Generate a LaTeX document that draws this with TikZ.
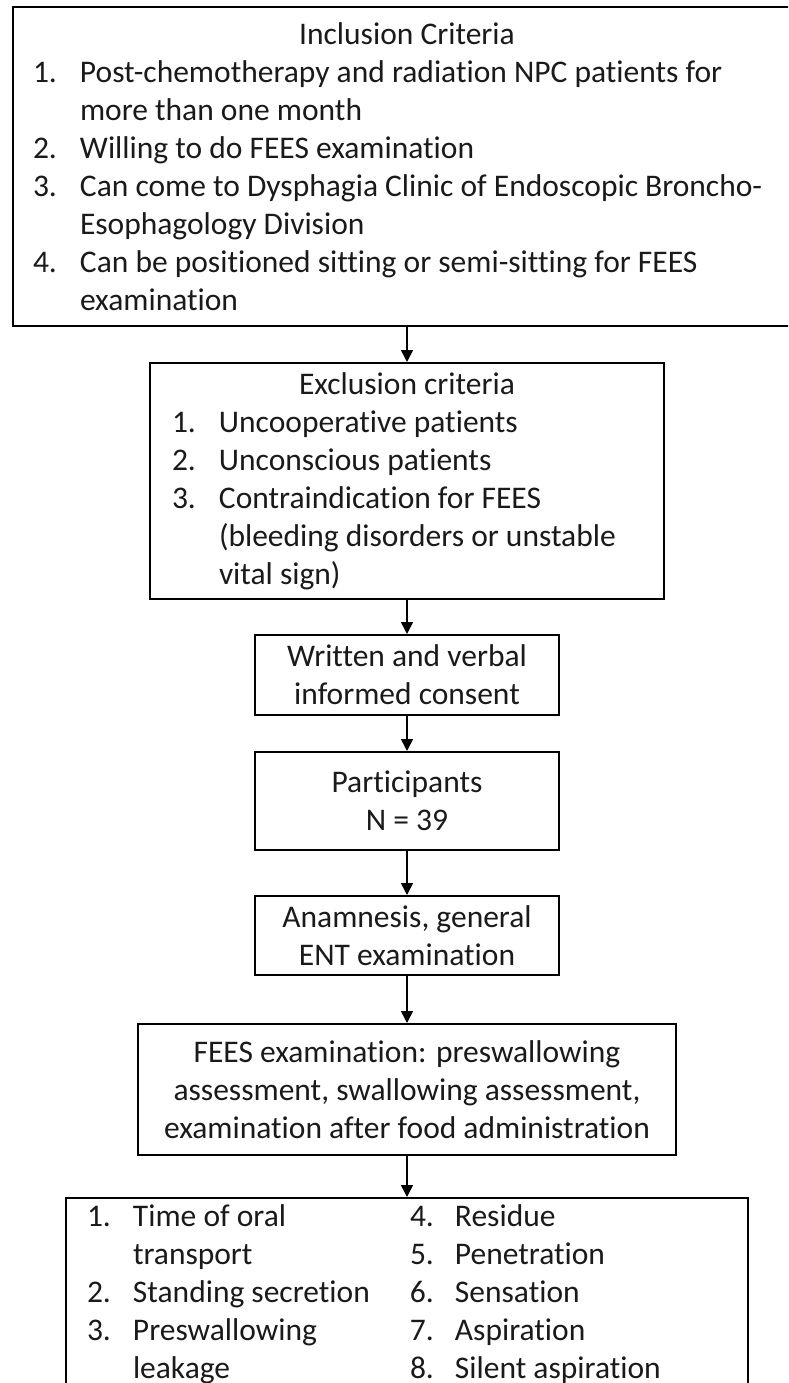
\documentclass[tikz,border=0pt]{standalone}
\usepackage{fontspec}
\setmainfont{Carlito}[Ligatures={NoCommon}]
\usetikzlibrary{arrows.meta}
\definecolor{ink}{HTML}{1A1A1A}
\tikzset{
  box/.style={draw=black, line width=2pt, rectangle, inner sep=0pt, text=ink,
    font=\fontsize{31.5}{38}\selectfont},
  arr/.style={draw=black, line width=1.6pt, -{Triangle[width=12pt,length=12pt]}},
}
\newcommand\itm[2]{\makebox[47pt][l]{#1}#2\par}
\newcommand\twocol[4]{\makebox[46pt][l]{#1}\makebox[277pt][l]{#2}\makebox[45pt][l]{#3}#4\par}
\begin{document}
\begin{tikzpicture}[x=1pt,y=-1pt]
\useasboundingbox (0,0) rectangle (788,1383);
\fill[white] (0,0) rectangle (788,1383);
\clip (0,0) rectangle (788,1383);

\node[box, minimum width=788pt, minimum height=319pt] (inc) at (407,166.5)
 {\parbox{748pt}{\centering Inclusion Criteria\par\raggedright
  \itm{1.}{Post-chemotherapy and radiation NPC patients for}
  \itm{}{more than one month}
  \itm{2.}{Willing to do FEES examination}
  \itm{3.}{Can come to Dysphagia Clinic of Endoscopic Broncho-}
  \itm{}{Esophagology Division}
  \itm{4.}{Can be positioned sitting or semi-sitting for FEES}
  \itm{}{examination}}};

\node[box, minimum width=514pt, minimum height=236pt] (exc) at (407,481)
 {\parbox{470pt}{\centering Exclusion criteria\par\raggedright
  \itm{1.}{Uncooperative patients}
  \itm{2.}{Unconscious patients}
  \itm{3.}{Contraindication for FEES}
  \itm{}{(bleeding disorders or unstable}
  \itm{}{vital sign)}}};

\node[box, align=center, minimum width=304pt, minimum height=80pt] (cons) at (407,675)
 {Written and verbal\\informed consent};

\node[box, align=center, minimum width=304pt, minimum height=98pt] (part) at (407,801)
 {Participants\\N = 39};

\node[box, align=center, minimum width=304pt, minimum height=79pt] (anam) at (407,935.5)
 {Anamnesis, general\\ENT examination};

\node[box, align=center, minimum width=538pt, minimum height=131pt] (fees) at (407,1089.5)
 {FEES examination: preswallowing\\assessment, swallowing assessment,\\examination after food administration};

\node[box, minimum width=682pt, minimum height=192pt] (out) at (407,1294)
 {\parbox{640pt}{\raggedright
  \twocol{1.}{Time of oral}{4.}{Residue}
  \twocol{}{transport}{5.}{Penetration}
  \twocol{2.}{Standing secretion}{6.}{Sensation}
  \twocol{3.}{Preswallowing}{7.}{Aspiration}
  \twocol{}{leakage}{8.}{Silent aspiration}}};

\draw[arr] (inc.south) -- (exc.north);
\draw[arr] (exc.south) -- (cons.north);
\draw[arr] (cons.south) -- (part.north);
\draw[arr] (part.south) -- (anam.north);
\draw[arr] (anam.south) -- (fees.north);
\draw[arr] (fees.south) -- (out.north);
\end{tikzpicture}
\end{document}
